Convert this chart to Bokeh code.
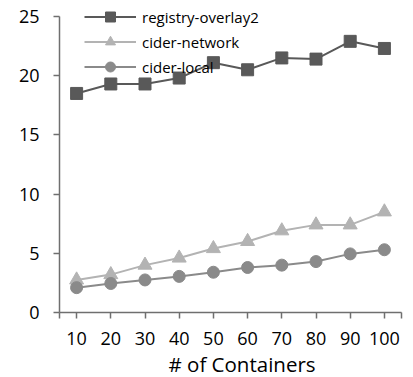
from bokeh.plotting import figure
from bokeh.models import Range1d, FixedTicker, Legend, LegendItem, Title
from bokeh.embed import file_html
from bokeh.resources import INLINE

containers = [10, 20, 30, 40, 50, 60, 70, 80, 90, 100]
registry_overlay2 = [18.5, 19.3, 19.3, 19.8, 21.1, 20.5, 21.5, 21.4, 22.9, 22.3]
cider_network = [2.75, 3.2, 4.0, 4.6, 5.4, 6.0, 6.9, 7.4, 7.4, 8.5]
cider_local = [2.1, 2.45, 2.75, 3.05, 3.4, 3.8, 4.0, 4.3, 4.95, 5.3]
y_ticks = [0, 5, 10, 15, 20, 25]
x_title = "# of Containers"

FONT = "Open Sans"

p = figure(frame_width=342, frame_height=312, output_backend="svg",
           toolbar_location=None, x_range=Range1d(5, 105), y_range=Range1d(0, 26.35),
           min_border_left=59, min_border_right=8, min_border_top=0, min_border_bottom=57)
p.outline_line_color = None
p.xgrid.grid_line_color = None
p.ygrid.grid_line_color = None
p.background_fill_color = None
p.border_fill_color = None

xt = [5] + containers + [105]
p.xaxis.ticker = FixedTicker(ticks=xt)
p.xaxis.major_label_overrides = {5: "", 105: ""}
p.yaxis.ticker = FixedTicker(ticks=y_ticks)
p.yaxis.bounds = (0, 25)
for ax in (p.xaxis[0], p.yaxis[0]):
    ax.axis_line_color = "#6f6f6f"
    ax.axis_line_width = 1.5
    ax.major_tick_line_color = "#6f6f6f"
    ax.major_tick_line_width = 1.5
    ax.major_tick_in = 0
    ax.major_tick_out = 6
    ax.minor_tick_line_color = None
    ax.major_label_text_font = FONT
    ax.major_label_text_font_size = "18px"
    ax.major_label_text_color = "#000000"
p.xaxis.major_label_standoff = 13
p.yaxis.major_label_standoff = 14

p.add_layout(Title(text=x_title, align="left", offset=109, standoff=0,
                   text_font=FONT, text_font_size="20.5px", text_font_style="normal",
                   text_color="#000000"), "below")

c1, c2, c3 = "#595959", "#b3b3b3", "#8a8a8a"
l1 = p.line(containers, registry_overlay2, line_color=c1, line_width=2)
m1 = p.scatter(containers, registry_overlay2, marker="square", size=12, fill_color=c1, line_color=c1)
l2 = p.line(containers, cider_network, line_color=c2, line_width=2)
m2 = p.scatter(containers, cider_network, marker="triangle", size=14, fill_color=c2, line_color=c2)
l3 = p.line(containers, cider_local, line_color=c3, line_width=2)
m3 = p.scatter(containers, cider_local, marker="circle", size=12, fill_color=c3, line_color=c3)

legend = Legend(items=[
    LegendItem(label="registry-overlay2", renderers=[l1, m1]),
    LegendItem(label="cider-network", renderers=[l2, m2]),
    LegendItem(label="cider-local", renderers=[l3, m3]),
], location=(25, 233), padding=0, margin=0, spacing=0, glyph_width=52, glyph_height=25,
   label_standoff=6, label_text_font=FONT, label_text_font_size="15px",
   label_text_color="#000000",
   background_fill_alpha=0, border_line_color=None)
p.add_layout(legend, "center")

open("out.html", "w").write(file_html(p, INLINE))
